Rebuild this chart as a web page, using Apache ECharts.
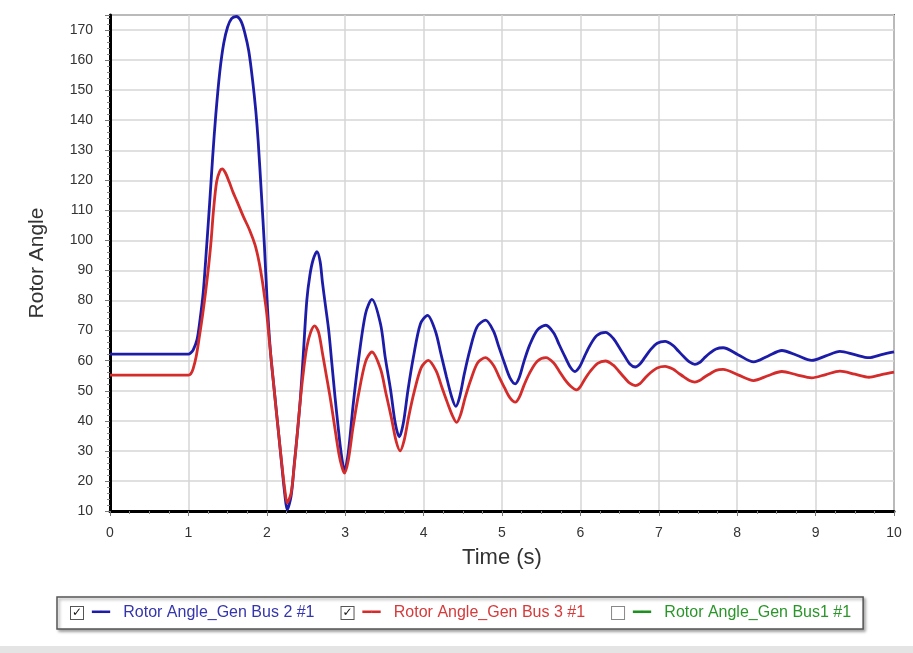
<!DOCTYPE html>
<html>
<head>
<meta charset="utf-8">
<title>Rotor Angle</title>
<script src="https://cdn.jsdelivr.net/npm/echarts@6/dist/echarts.min.js"></script>
<style>
  html, body { margin: 0; padding: 0; background: #fff; }
  #chart { width: 913px; height: 653px; }
</style>
</head>
<body>
<div id="chart"></div>
<script>
// series names as in the legend
const seriesNames = ["Rotor Angle_Gen Bus 2 #1", "Rotor Angle_Gen Bus 3 #1", "Rotor Angle_Gen Bus1 #1"];

// Gen Bus 2 (blue)
const blueTime = [0, 1.0, 1.03, 1.06, 1.11, 1.15, 1.19, 1.23, 1.27, 1.31, 1.35, 1.40, 1.45, 1.50, 1.55, 1.61,
  1.67, 1.72, 1.77, 1.82, 1.86, 1.89, 1.93, 1.97, 2.01, 2.05, 2.10, 2.15, 2.19, 2.23, 2.26,
  2.31, 2.35, 2.39, 2.43, 2.47, 2.51, 2.55, 2.59, 2.64,
  2.68, 2.71, 2.75, 2.79, 2.83, 2.87, 2.91, 2.94, 2.97, 2.99,
  3.04, 3.10, 3.17, 3.26, 3.34, 3.45, 3.51, 3.58, 3.64, 3.69,
  3.74, 3.80, 3.87, 3.96, 4.05, 4.15, 4.22, 4.29, 4.36, 4.41,
  4.46, 4.52, 4.59, 4.68, 4.79, 4.89, 4.96, 5.03, 5.10, 5.17,
  5.22, 5.28, 5.35, 5.45, 5.56, 5.66, 5.73, 5.80, 5.87, 5.93,
  5.99, 6.05, 6.12, 6.21, 6.32, 6.42, 6.49, 6.56, 6.63, 6.70,
  6.76, 6.82, 6.89, 6.98, 7.08, 7.18, 7.25, 7.32, 7.39, 7.46,
  7.52, 7.58, 7.65, 7.73, 7.82, 8.01, 8.21, 8.39, 8.57, 8.76, 8.95,
  9.13, 9.31, 9.50, 9.68, 9.84, 10.0];
const blueAngle = [62.2, 62.2, 62.6, 63.5, 67, 74, 83, 97, 112, 128, 142, 156, 165.5, 171, 173.8, 174.5,
  173, 169, 163, 153, 143, 133, 116, 98, 77, 62, 49, 36, 25.5, 15.5, 10.4,
  15, 25.5, 36, 48, 64, 80, 88.5, 93.5, 96.3,
  93, 86, 78, 70, 59, 48, 38, 31, 25.5, 23.3,
  29.6, 45, 60.3, 75.7, 80.4, 72.3, 61.2, 50.1, 39, 34.7,
  39, 50.1, 61.2, 72.3, 75.1, 69.9, 62.4, 54.8, 47.8, 44.8,
  48, 55.7, 63.5, 71.2, 73.5, 69.9, 64.6, 59.3, 54.4, 52.3,
  54.4, 59.7, 65, 70.2, 71.8, 69.2, 65.3, 61.5, 57.9, 56.4,
  58, 61.3, 65, 68.4, 69.4, 67.4, 64.6, 61.7, 58.9, 57.9,
  58.9, 61, 63.5, 65.8, 66.4, 65.1, 63.2, 61.3, 59.6, 58.8,
  59.4, 60.9, 62.5, 63.9, 64.3, 62, 59.6, 61.5, 63.4, 61.8, 60.1,
  61.6, 63.1, 62, 61.0, 62, 62.9];

// Gen Bus 3 (red)
const redTime = [0, 1.0, 1.03, 1.06, 1.10, 1.14, 1.18, 1.22, 1.26, 1.29, 1.32, 1.36, 1.40, 1.43,
  1.47, 1.52, 1.57, 1.62, 1.70, 1.78, 1.85, 1.90, 1.94, 1.97, 2.00, 2.04, 2.08, 2.11, 2.15, 2.19, 2.23, 2.26,
  2.31, 2.35, 2.39, 2.43, 2.47, 2.51, 2.56, 2.61,
  2.66, 2.71, 2.76, 2.81, 2.86, 2.92, 2.96, 2.99,
  3.04, 3.10, 3.17, 3.26, 3.34, 3.45, 3.52, 3.59, 3.65, 3.70,
  3.75, 3.81, 3.88, 3.97, 4.06, 4.16, 4.23, 4.30, 4.37, 4.42,
  4.47, 4.53, 4.60, 4.69, 4.79, 4.89, 4.96, 5.03, 5.10, 5.17,
  5.22, 5.28, 5.35, 5.45, 5.56, 5.66, 5.73, 5.80, 5.88, 5.95,
  6.00, 6.06, 6.13, 6.22, 6.32, 6.42, 6.49, 6.56, 6.63, 6.70,
  6.76, 6.82, 6.89, 6.98, 7.08, 7.18, 7.25, 7.32, 7.39, 7.46,
  7.52, 7.58, 7.65, 7.73, 7.82, 8.01, 8.21, 8.39, 8.57, 8.76, 8.95,
  9.13, 9.31, 9.50, 9.68, 9.84, 10.0];
const redAngle = [55.2, 55.2, 55.6, 57.3, 61.5, 68, 75, 83, 92, 100, 110, 119.5, 123, 123.8,
  122.6, 119.5, 116, 113, 108, 103.5, 98.5, 93, 87, 81.5, 75.5, 64.5, 54, 46, 36, 26, 17, 12.7,
  16, 25, 36, 47.5, 57, 64.5, 69.5, 71.6,
  69.5, 62.5, 55, 47.5, 39, 29, 24.5, 22.6,
  27, 37.9, 48.8, 59.7, 62.9, 57.3, 49.1, 40.9, 33.2, 30.0,
  33.3, 41.4, 49.6, 57.7, 60.1, 56.6, 51.4, 46.3, 41.6, 39.5,
  41.9, 47.7, 53.5, 59.3, 61.0, 58.5, 54.8, 51.1, 47.7, 46.2,
  47.8, 51.8, 55.8, 59.8, 61.0, 59.2, 56.5, 53.8, 51.4, 50.3,
  51.4, 54, 56.6, 59.1, 59.9, 58.5, 56.5, 54.4, 52.5, 51.7,
  52.4, 54.1, 55.9, 57.6, 58.1, 57.2, 55.9, 54.6, 53.4, 52.9,
  53.4, 54.5, 55.6, 56.8, 57.1, 55.3, 53.4, 55, 56.4, 55.3, 54.3,
  55.4, 56.5, 55.5, 54.5, 55.4, 56.2];

// Gen Bus1 is unchecked in the legend, nothing drawn
const greenTime = [];
const greenAngle = [];

const lineColors = ["#1c1ca8", "#d42b2b", "#1f8f1f"];
const textColors = ["#3535ad", "#d63a3a", "#2a962a"];
const checked = [true, true, false];

const font = "'Liberation Sans', Arial, sans-serif";

function toPairs(times, values) {
  return times.map((t, i) => [t, values[i]]);
}

const chart = echarts.init(document.getElementById("chart"));

const option = {
  backgroundColor: "#fff",
  animation: false,
  textStyle: { fontFamily: font },
  grid: {
    left: 110,
    right: 19,
    top: 15,
    bottom: 142,
    show: true,
    borderColor: "#6a6a6a",
    borderWidth: 2,
    backgroundColor: "#fff",
  },
  xAxis: {
    type: "value",
    min: 0,
    max: 10,
    interval: 1,
    name: "Time (s)",
    nameLocation: "middle",
    nameGap: 36,
    nameTextStyle: { fontSize: 22, color: "#333", fontFamily: font },
    axisLine: { lineStyle: { color: "#000", width: 3 } },
    axisTick: { length: 5, lineStyle: { color: "#777", width: 1 } },
    minorTick: { show: true, splitNumber: 4, length: 3, lineStyle: { color: "#888" } },
    axisLabel: { fontSize: 14, color: "#333", margin: 15, fontFamily: font },
    splitLine: { lineStyle: { color: "#d6d6d6", width: 1.5 } },
  },
  yAxis: {
    type: "value",
    min: 10,
    max: 175,
    interval: 10,
    name: "Rotor Angle",
    nameLocation: "middle",
    nameGap: 62,
    nameTextStyle: { fontSize: 21, color: "#333", fontFamily: font },
    axisLine: { show: true, lineStyle: { color: "#000", width: 3 } },
    axisTick: { show: true, length: 5, lineStyle: { color: "#777", width: 1 } },
    minorTick: { show: true, splitNumber: 5, length: 3, lineStyle: { color: "#888" } },
    axisLabel: { fontSize: 14, color: "#333", margin: 17, showMaxLabel: false, fontFamily: font },
    splitLine: { lineStyle: { color: "#d6d6d6", width: 1.5 } },
  },
  legend: {
    left: 57,
    top: 597,
    orient: "horizontal",
    icon: "none",
    itemWidth: 0,
    itemHeight: 14,
    itemGap: 22,
    padding: [8, 12, 8, 9],
    backgroundColor: "#fff",
    borderColor: "#555",
    borderWidth: 1.5,
    shadowColor: "rgba(0,0,0,0.35)",
    shadowBlur: 3,
    shadowOffsetX: 2,
    shadowOffsetY: 2,
    inactiveColor: textColors[2],
    selected: { [seriesNames[2]]: false },
    data: seriesNames.map((n, i) => ({ name: n, textStyle: { color: textColors[i] } })),
    formatter: (name) => {
      const i = seriesNames.indexOf(name);
      const box = checked[i] ? "{on|✓}" : "{off| }";
      return box + "  {l" + i + "|━━}   " + name;
    },
    textStyle: {
      fontSize: 16,
      fontFamily: font,
      rich: {
        on: {
          width: 12, height: 12, lineHeight: 12, align: "center",
          borderColor: "#555", borderWidth: 1, backgroundColor: "#fff",
          color: "#111", fontSize: 12, fontWeight: "bold", fontFamily: "'DejaVu Sans'",
        },
        off: {
          width: 12, height: 12, lineHeight: 12,
          borderColor: "#888", borderWidth: 1, backgroundColor: "#fff",
          fontSize: 12,
        },
        l0: { color: lineColors[0], fontSize: 15, fontFamily: "'DejaVu Sans'" },
        l1: { color: lineColors[1], fontSize: 15, fontFamily: "'DejaVu Sans'" },
        l2: { color: lineColors[2], fontSize: 15, fontFamily: "'DejaVu Sans'" },
      },
    },
  },
  graphic: [
    {
      type: "rect",
      left: 0,
      top: 646,
      shape: { width: 913, height: 7 },
      style: { fill: "#e4e4e4" },
      silent: true,
    },
  ],
  series: [
    {
      name: seriesNames[0],
      type: "line",
      data: toPairs(blueTime, blueAngle),
      showSymbol: false,
      smooth: 0.3,
      lineStyle: { color: lineColors[0], width: 2.8 },
      itemStyle: { color: lineColors[0] },
    },
    {
      name: seriesNames[1],
      type: "line",
      data: toPairs(redTime, redAngle),
      showSymbol: false,
      smooth: 0.3,
      lineStyle: { color: lineColors[1], width: 2.8 },
      itemStyle: { color: lineColors[1] },
    },
    {
      name: seriesNames[2],
      type: "line",
      data: toPairs(greenTime, greenAngle),
      showSymbol: false,
      lineStyle: { color: lineColors[2], width: 2.8 },
      itemStyle: { color: lineColors[2] },
    },
  ],
};

chart.setOption(option);
</script>
</body>
</html>
